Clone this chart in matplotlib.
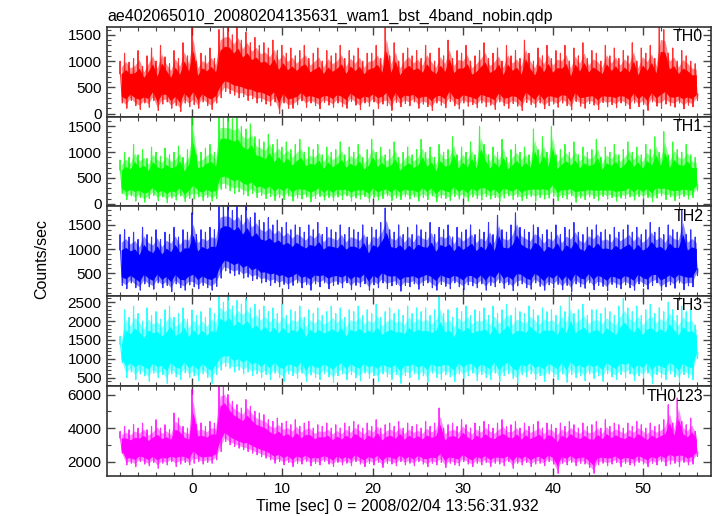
import numpy as np
import matplotlib
matplotlib.use("Agg")
import matplotlib.pyplot as plt
from matplotlib.ticker import MultipleLocator

plt.rcParams['font.family'] = ['Liberation Sans', 'DejaVu Sans']

TITLE = "ae402065010_20080204135631_wam1_bst_4band_nobin.qdp"
XLABEL = "Time [sec] 0 = 2008/02/04 13:56:31.932"
YLABEL = "Counts/sec"

# peaks (hi) and troughs (lo) read every 0.5 s from t=-8 to t=56
th0_hi = [1000, 1150, 980, 1050, 1200, 900, 1100, 1250, 1000, 1300, 1080, 950, 1200, 1050, 1350, 1100,
          1650, 1000, 1150, 1100, 1250, 1050, 1600, 1650, 1650, 1500, 1650, 1400, 1550, 1350, 1450, 1300,
          1350, 1250, 1400, 1200, 1300, 1150, 1250, 1100, 1200, 1300, 1050, 1150, 1250, 1000, 1200, 1100,
          1150, 1300, 1050, 1200, 1100, 1250, 1000, 1150, 1150, 1300, 1050, 1650, 1100, 1350, 1000, 1150,
          1250, 1100, 1200, 1050, 1300, 1150, 1000, 1250, 1100, 1400, 1050, 1200, 1150, 1300, 1000, 1100,
          1200, 1350, 1050, 1150, 1250, 1000, 1300, 1100, 1200, 1050, 1400, 1150, 1000, 1250, 1100, 1300,
          1050, 1200, 1150, 1300, 1000, 1250, 1100, 1350, 1050, 1200, 1150, 1000, 1300, 1100, 1250, 1050,
          1200, 1100, 1350, 1000, 1250, 1150, 1300, 1050, 1650, 1600, 1150, 1250, 1000, 1200, 1100, 1000,
          950]
th0_lo = [200, 100, 250, 150, 80, 200, 120, 250, 60, 180, 220, 100, 150, 40, 200, 130,
          170, 100, 220, 150, 80, 200, 300, 420, 380, 350, 300, 320, 250, 280, 200, 230,
          180, 150, 220, 0, 200, 100, 100, 170, 240, 120, 200, 150, 90, 210, 160, 120,
          200, 130, 100, 230, 160, 80, 200, 140, 220, 100, 180, 150, 60, 210, 130, 190,
          150, 220, 100, 180, 130, 60, 200, 160, 110, 230, 150, 90, 200, 140, 170, 110,
          200, 130, 160, 80, 220, 150, 100, 190, 140, 60, 210, 170, 120, 200, 90, 150,
          180, 120, 200, 150, 70, 230, 140, 100, 190, 160, 80, 210, 130, 170, 110, 200,
          150, 90, 200, 130, 170, 60, 220, 140, 100, 180, 150, 120, 200, 90, 160, 130,
          250]

th1_hi = [850, 1000, 900, 1150, 950, 1050, 880, 1100, 1000, 920, 1080, 950, 1000, 1120, 900, 1050,
          1690, 950, 1000, 1080, 1150, 1000, 1690, 1690, 1690, 1650, 1690, 1500, 1450, 1550, 1300, 1250,
          1200, 1350, 1150, 1250, 1100, 1200, 1050, 1150, 1250, 1000, 1100, 1050, 1150, 950, 1100, 1000,
          1050, 1200, 950, 1100, 1000, 1150, 900, 1050, 1250, 1000, 1100, 950, 1050, 1200, 900, 1000,
          1100, 950, 1050, 1250, 1000, 1100, 900, 1150, 1000, 1050, 1300, 950, 1100, 1000, 1200, 950,
          1500, 1150, 950, 1100, 1000, 1250, 900, 1050, 1150, 1000, 1100, 950, 1450, 1050, 1300, 1000,
          1500, 950, 1050, 1150, 1000, 1200, 950, 1100, 1000, 1050, 1250, 900, 1100, 1000, 1150, 950,
          1050, 1200, 1000, 1100, 950, 1150, 1050, 1300, 1000, 1400, 950, 1200, 1050, 1000, 1150, 950,
          900]
th1_lo = [200, 80, 150, 50, 120, 30, 100, 160, 60, 130, 20, 110, 70, 150, 40, 100,
          90, 130, 60, 120, 50, 100, 280, 300, 250, 200, 230, 180, 150, 200, 120, 160,
          100, 140, 60, 120, 80, 150, 50, 110, 90, 130, 40, 100, 140, 70, 120, 60,
          130, 80, 150, 50, 110, 90, 140, 30, 120, 70, 100, 150, 60, 110, 80, 140,
          90, 130, 50, 120, 80, 150, 40, 110, 100, 60, 140, 90, 120, 50, 130, 100,
          70, 140, 90, 120, 40, 110, 150, 80, 130, 60, 100, 140, 50, 120, 90, 110,
          140, 60, 120, 90, 150, 30, 110, 80, 130, 100, 60, 140, 90, 120, 50, 110,
          100, 130, 70, 140, 90, 120, 40, 110, 150, 80, 130, 60, 100, 140, 90, 120,
          250]

th2_hi = [1300, 1400, 1250, 1350, 1200, 1450, 1300, 1250, 1400, 1200, 1350, 1300, 1450, 1250, 1400, 1350,
          1750, 1300, 1400, 1350, 1450, 1400, 1885, 1885, 1885, 1800, 1885, 1700, 1885, 1650, 1750, 1600,
          1550, 1650, 1500, 1600, 1450, 1550, 1400, 1500, 1450, 1350, 1500, 1400, 1550, 1300, 1450, 1400,
          1350, 1500, 1300, 1450, 1400, 1350, 1500, 1250, 1450, 1400, 1550, 1850, 1400, 1350, 1500, 1300,
          1450, 1300, 1500, 1400, 1350, 1550, 1300, 1450, 1400, 1500, 1250, 1450, 1350, 1400, 1500, 1300,
          1400, 1350, 1550, 1300, 1700, 1400, 1350, 1500, 1750, 1450, 1400, 1350, 1500, 1450, 1300, 1400,
          1350, 1500, 1300, 1450, 1400, 1550, 1350, 1300, 1450, 1400, 1500, 1350, 1400, 1300, 1450, 1350,
          1400, 1500, 1350, 1450, 1300, 1400, 1550, 1350, 1450, 1300, 1500, 1400, 1350, 1800, 1300, 1400,
          1250]
th2_lo = [250, 180, 300, 200, 150, 280, 220, 170, 300, 200, 250, 120, 280, 200, 150, 260,
          220, 180, 250, 200, 150, 230, 400, 550, 500, 450, 480, 400, 420, 350, 380, 300,
          320, 250, 300, 220, 270, 180, 250, 300, 200, 260, 150, 280, 220, 300, 180, 250,
          270, 200, 300, 160, 250, 220, 280, 150, 260, 200, 300, 180, 240, 270, 130, 250,
          220, 280, 170, 250, 300, 200, 150, 270, 230, 180, 300, 220, 160, 260, 240, 200,
          280, 150, 250, 220, 300, 190, 260, 140, 240, 280, 200, 170, 300, 230, 150, 260,
          200, 270, 160, 250, 120, 280, 220, 190, 300, 160, 250, 230, 140, 270, 210, 180,
          260, 200, 150, 280, 230, 170, 250, 300, 140, 220, 260, 190, 300, 160, 240, 220,
          450]

th3_hi = [1600, 2300, 2100, 2400, 2200, 2000, 2350, 2150, 2250, 2050, 2300, 2400, 2100, 2200, 2350, 2050,
          2300, 2150, 2250, 2100, 2350, 2200, 2665, 2500, 2665, 2400, 2550, 2450, 2600, 2350, 2450, 2300,
          2400, 2250, 2350, 2200, 2450, 2150, 2300, 2250, 2400, 2100, 2300, 2200, 2350, 2150, 2250, 2400,
          2200, 2350, 2100, 2300, 2250, 2400, 2150, 2300, 2200, 2450, 2100, 2250, 2350, 2200, 2300, 2150,
          2400, 2200, 2350, 2250, 2350, 2150, 2300, 2650, 2200, 2300, 2100, 2350, 2250, 2400, 2150, 2300,
          2250, 2350, 2150, 2400, 2200, 2300, 2450, 2150, 2350, 2250, 2200, 2400, 2300, 2150, 2350, 2250,
          2300, 2150, 2400, 2250, 2650, 2200, 2300, 2450, 2150, 2300, 2300, 2200, 2350, 2250, 2150, 2400,
          2600, 2350, 2250, 2400, 2150, 2300, 2450, 2200, 2350, 2250, 2500, 2300, 2150, 2400, 2250, 2300,
          1900]
th3_lo = [900, 500, 650, 450, 600, 550, 400, 620, 500, 580, 350, 600, 520, 450, 630, 500,
          550, 420, 600, 500, 350, 580, 700, 800, 750, 650, 700, 600, 650, 550, 600, 500,
          580, 450, 620, 500, 400, 600, 550, 480, 620, 400, 570, 500, 450, 600, 520, 380,
          550, 600, 450, 580, 500, 420, 620, 480, 550, 400, 600, 520, 450, 580, 350, 560,
          500, 600, 450, 550, 380, 620, 500, 450, 580, 520, 400, 600, 480, 550, 620, 420,
          580, 500, 450, 620, 400, 550, 600, 480, 350, 580, 520, 600, 450, 550, 400, 600,
          520, 450, 600, 380, 580, 500, 550, 420, 600, 480, 550, 400, 600, 520, 450, 580,
          500, 600, 420, 550, 480, 620, 350, 580, 500, 450, 600, 520, 400, 580, 500, 450,
          1000]

th0123_hi = [3800, 4100, 3900, 4200, 4000, 4300, 3900, 4100, 4500, 4000, 4200, 3900, 4900, 4600, 4100, 4000,
             6300, 4200, 4300, 4100, 4400, 4300, 6500, 6500, 6000, 5600, 5400, 5200, 5700, 5300, 5000, 4900,
             4800, 4500, 4400, 4600, 4300, 4400, 4200, 4500, 4100, 4300, 4400, 4000, 4200, 4100, 4300, 4000,
             4200, 4000, 4300, 4100, 4400, 4200, 4000, 4300, 4100, 4500, 4000, 4200, 4300, 4100, 4400, 4000,
             4300, 4100, 4200, 4000, 4400, 4100, 4300, 5200, 4000, 4200, 4300, 4100, 4500, 4200, 4000, 4300,
             4100, 4400, 4200, 4000, 4300, 4500, 4100, 4200, 4400, 4000, 4300, 4100, 4200, 4400, 4000, 4300,
             4200, 4000, 4300, 4100, 4400, 4200, 4000, 4300, 4100, 4200, 4400, 4000, 4500, 4100, 4300, 4200,
             4000, 4300, 4100, 4400, 4200, 4000, 4300, 4100, 4200, 4500, 5400, 4300, 5800, 4400, 4200, 4600,
             3800]
th0123_lo = [2500, 1800, 1900, 1700, 2000, 1850, 1750, 1950, 1600, 1900, 1800, 2000, 1700, 1850, 1950, 1800,
             1900, 2000, 1850, 1950, 1900, 2100, 2600, 3200, 3000, 2900, 2800, 2700, 2600, 2500, 2400, 2300,
             2200, 2100, 1900, 2000, 1800, 1950, 1700, 1900, 1850, 2000, 1750, 1900, 1800, 2000, 1850, 1700,
             1950, 1800, 1900, 1750, 2000, 1850, 1700, 1900, 1800, 1950, 1650, 1900, 1850, 1750, 2000, 1800,
             1900, 1750, 2000, 1850, 1700, 1900, 1800, 1950, 1650, 1900, 1800, 1750, 2000, 1850, 1700, 1900,
             1800, 1950, 1700, 1900, 1850, 1750, 2000, 1600, 1900, 1800, 1950, 1700, 1850, 1900, 1750, 2000,
             1850, 1300, 1900, 1800, 1950, 1750, 1900, 1850, 1650, 1300, 1800, 1900, 1750, 1850, 1950, 1700,
             1900, 1800, 1750, 1950, 1850, 1700, 1900, 1800, 2000, 1750, 1850, 1900, 1700, 1950, 1800, 1850,
             2300]

panels = [
    ("TH0", th0_hi, th0_lo, "#ff0000", (-60, 1650), 500, 100),
    ("TH1", th1_hi, th1_lo, "#00ff00", (-50, 1690), 500, 100),
    ("TH2", th2_hi, th2_lo, "#0000ff", (30, 1885), 500, 100),
    ("TH3", th3_hi, th3_lo, "#00ffff", (275, 2665), 500, 100),
    ("TH0123", th0123_hi, th0123_lo, "#ff00ff", (1140, 6500), 2000, 1000),
]

W, H = 717, 516
fig = plt.figure(figsize=(W / 100, H / 100), dpi=100)
fig.patch.set_facecolor("white")

left, right = 107, 711
edges = [27, 116.7, 206.3, 296, 386.2, 476]
FS = 11.5

t = np.linspace(-8, 55.75, len(th0_hi))

for k, (name, hi, lo, col, ylim, major, minor) in enumerate(panels):
    top, bot = edges[k], edges[k + 1]
    ax = fig.add_axes([left / W, 1 - bot / H, (right - left) / W, (bot - top) / H])
    hi = np.array(hi, float)
    lo = np.array(lo, float)
    rng = hi - lo
    c_hi = hi - 0.30 * rng
    c_lo = lo + 0.17 * rng
    # light outer fringe, solid core, then thin needles out to each peak / trough
    ax.fill_between(t + 0.125, lo + 0.07 * rng, hi - 0.15 * rng, color=col, lw=0, alpha=0.45)
    ax.fill_between(t + 0.125, c_lo, c_hi, color=col, lw=0)
    tz = np.column_stack([t - 0.04, t, t + 0.04, t + 0.21, t + 0.25, t + 0.29]).ravel()
    yz = np.column_stack([c_hi, hi, c_hi, c_lo, lo, c_lo]).ravel()
    ax.plot(tz, yz, color=col, lw=0.8, alpha=0.8)
    ax.set_xlim(-9.45, 57.5)
    ax.set_ylim(*ylim)
    ax.xaxis.set_major_locator(MultipleLocator(10))
    ax.xaxis.set_minor_locator(MultipleLocator(2))
    ax.yaxis.set_major_locator(MultipleLocator(major))
    ax.yaxis.set_minor_locator(MultipleLocator(minor))
    ax.tick_params(which="both", direction="in", top=True, right=True,
                   color="#444444", labelsize=11, pad=4)
    ax.tick_params(which="major", length=6, width=1)
    ax.tick_params(which="minor", length=3, width=0.8)
    for s in ax.spines.values():
        s.set_color("#333333")
        s.set_linewidth(1.2)
    if k < len(panels) - 1:
        ax.tick_params(labelbottom=False)
    ax.text(0.987, 0.89, name, transform=ax.transAxes, ha="right", va="center",
            fontsize=FS, color="black")

fig.text(107 / W, 1 - 16 / H, TITLE, ha="left", va="center", fontsize=FS)
fig.text(41.7 / W, 1 - 259 / H, YLABEL, ha="center", va="center", rotation=90, fontsize=FS)
fig.text(397.5 / W, 1 - 507 / H, XLABEL, ha="center", va="center", fontsize=FS)

fig.savefig("out.png", dpi=100)
